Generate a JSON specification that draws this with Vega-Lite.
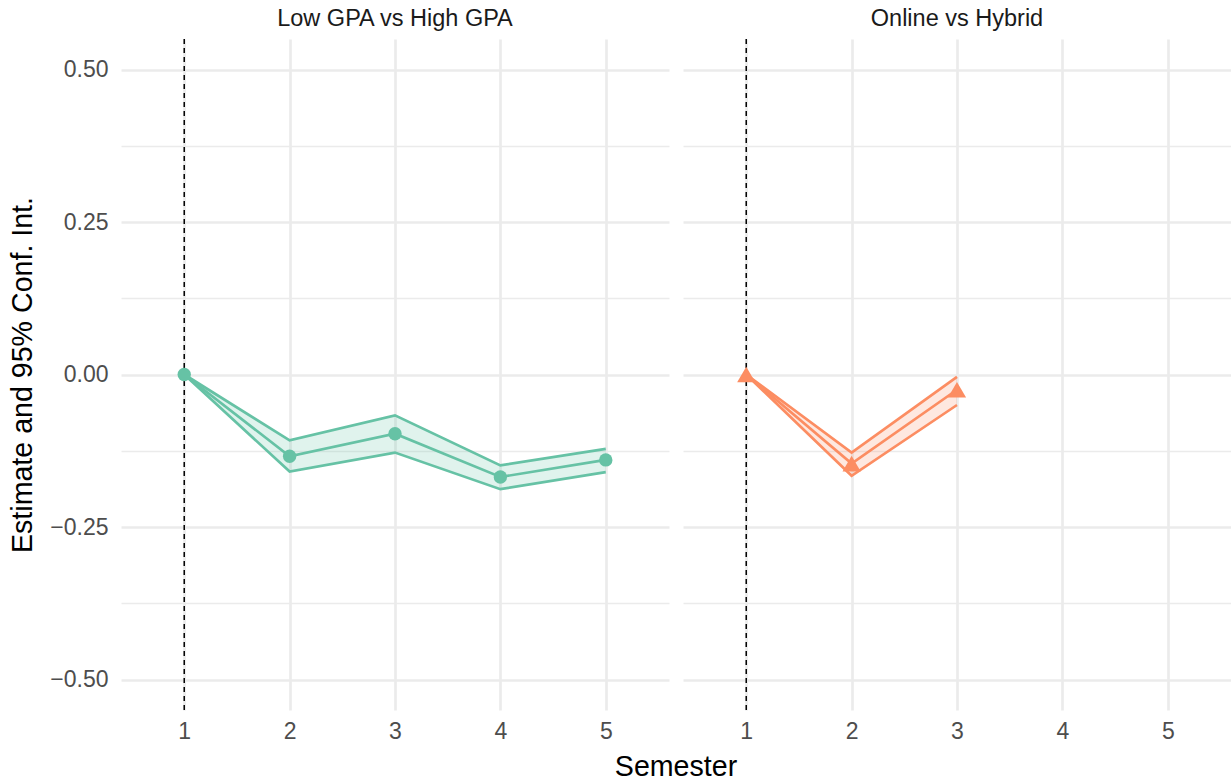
{
  "$schema": "https://vega.github.io/schema/vega-lite/v6.json",
  "padding": {"left": 8, "top": 6, "right": 0, "bottom": 0},
  "background": "white",
  "title": {
    "text": "Semester",
    "orient": "bottom",
    "anchor": "middle",
    "frame": "group",
    "fontSize": 28.6,
    "fontWeight": "normal",
    "font": "Liberation Sans",
    "color": "#000000",
    "offset": 10,
    "dx": 555
  },
  "config": {
    "font": "Liberation Sans",
    "view": {"stroke": null},
    "axis": {
      "ticks": false,
      "domain": false,
      "labelFontSize": 23,
      "labelColor": "#4D4D4D",
      "labelFont": "Liberation Sans",
      "titleFont": "Liberation Sans",
      "titleFontSize": 28.6,
      "titleFontWeight": "normal",
      "titleColor": "#000000",
      "gridColor": "#EBEBEB"
    }
  },
  "data": {
    "values": [
      {"panel": "Low GPA vs High GPA", "group": "gpa", "semester": 1, "est": 0, "lower": 0, "upper": 0},
      {"panel": "Low GPA vs High GPA", "group": "gpa", "semester": 2, "est": -0.134, "lower": -0.159, "upper": -0.108},
      {"panel": "Low GPA vs High GPA", "group": "gpa", "semester": 3, "est": -0.097, "lower": -0.128, "upper": -0.067},
      {"panel": "Low GPA vs High GPA", "group": "gpa", "semester": 4, "est": -0.168, "lower": -0.188, "upper": -0.149},
      {"panel": "Low GPA vs High GPA", "group": "gpa", "semester": 5, "est": -0.140, "lower": -0.160, "upper": -0.122},
      {"panel": "Online vs Hybrid", "group": "mode", "semester": 1, "est": 0, "lower": 0, "upper": 0},
      {"panel": "Online vs Hybrid", "group": "mode", "semester": 2, "est": -0.146, "lower": -0.166, "upper": -0.128},
      {"panel": "Online vs Hybrid", "group": "mode", "semester": 3, "est": -0.025, "lower": -0.050, "upper": -0.004}
    ]
  },
  "facet": {
    "column": {
      "field": "panel",
      "type": "nominal",
      "sort": ["Low GPA vs High GPA", "Online vs Hybrid"],
      "header": {
        "title": null,
        "labelFontSize": 23.5,
        "labelColor": "#1A1A1A",
        "labelFont": "Liberation Sans",
        "labelPadding": 8
      }
    }
  },
  "spacing": 14,
  "spec": {
    "width": 548,
    "height": 671,
    "encoding": {
      "x": {
        "field": "semester",
        "type": "quantitative",
        "title": null,
        "scale": {"domain": [0.4, 5.6], "nice": false, "zero": false},
        "axis": {"values": [1, 2, 3, 4, 5], "format": "d", "grid": true, "gridWidth": 2.7, "labelPadding": 9}
      }
    },
    "layer": [
      {
        "mark": {"type": "area", "opacity": 0.2},
        "encoding": {
          "y": {
            "field": "lower",
            "type": "quantitative",
            "title": "Estimate and 95% Conf. Int.",
            "scale": {"domain": [-0.55, 0.55], "nice": false, "zero": false},
            "axis": {
              "values": [-0.5, -0.375, -0.25, -0.125, 0, 0.125, 0.25, 0.375, 0.5],
              "format": ".2f",
              "labelExpr": "round(abs(datum.value) * 8) % 2 == 1 ? '' : datum.label",
              "grid": true,
              "gridWidth": {"condition": {"test": "round(abs(datum.value) * 8) % 2 == 1", "value": 1.4}, "value": 2.7},
              "labelPadding": 13,
              "titlePadding": 12
            }
          },
          "y2": {"field": "upper"},
          "color": {"field": "group", "type": "nominal", "scale": {"domain": ["gpa", "mode"], "range": ["#66C2A5", "#FC8D62"]}, "legend": null}
        }
      },
      {
        "transform": [{"filter": "datum.semester == 1"}],
        "mark": {"type": "rule", "color": "#000000", "strokeWidth": 1.6},
        "encoding": {"y": {"datum": 0}}
      },
      {
        "transform": [{"filter": "datum.semester == 1"}],
        "mark": {"type": "rule", "color": "#000000", "strokeWidth": 1.5, "strokeDash": [5, 4]},
        "encoding": {"x": {"datum": 1}}
      },
      {
        "mark": {"type": "line", "strokeWidth": 2.7},
        "encoding": {
          "y": {"field": "upper", "type": "quantitative"},
          "color": {"field": "group", "type": "nominal", "legend": null}
        }
      },
      {
        "mark": {"type": "line", "strokeWidth": 2.7},
        "encoding": {
          "y": {"field": "lower", "type": "quantitative"},
          "color": {"field": "group", "type": "nominal", "legend": null}
        }
      },
      {
        "mark": {"type": "line", "strokeWidth": 2.7},
        "encoding": {
          "y": {"field": "est", "type": "quantitative"},
          "color": {"field": "group", "type": "nominal", "legend": null}
        }
      },
      {
        "mark": {"type": "point", "filled": true, "opacity": 1},
        "encoding": {
          "y": {"field": "est", "type": "quantitative"},
          "color": {"field": "group", "type": "nominal", "legend": null},
          "shape": {"field": "group", "type": "nominal", "scale": {"domain": ["gpa", "mode"], "range": ["circle", "triangle-up"]}, "legend": null},
          "size": {"field": "group", "type": "nominal", "scale": {"domain": ["gpa", "mode"], "range": [180, 330]}, "legend": null}
        }
      }
    ]
  }
}
